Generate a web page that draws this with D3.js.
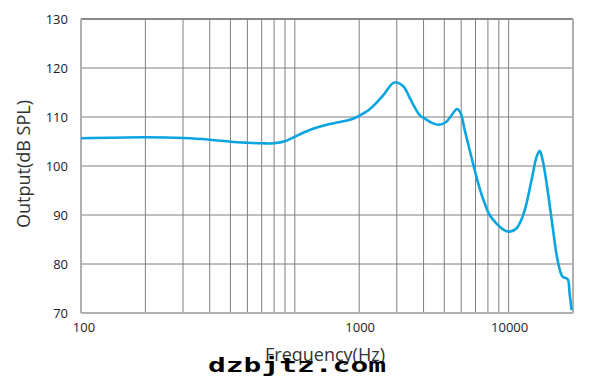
<!DOCTYPE html>
<html>
<head>
<meta charset="utf-8">
<script src="https://cdn.jsdelivr.net/npm/d3@7"></script>
<style>
  body { margin: 0; background: #fff; }
  svg { display: block; font-family: "Open Sans", "Noto Sans", sans-serif; }
</style>
</head>
<body>
<div id="chart"></div>
<script>
// frequency response
let freqs = [100, 200, 303, 401, 502, 597, 701, 797, 908, 1000, 1175, 1458, 1807, 1949, 2101, 2240, 2576, 2850, 2965, 3095, 3268, 3447, 3838, 4051, 4429, 4724, 5116, 5492, 5733, 5968, 6231, 6573, 6936, 7318, 7726, 8151, 8760, 9405, 10108, 10900, 11620, 12130, 12800, 13520, 13960, 14420, 15210, 16060, 16940, 17870, 18870, 19280, 19690]
let spl = [105.65, 105.86, 105.71, 105.37, 104.96, 104.76, 104.63, 104.63, 105.1, 105.98, 107.35, 108.57, 109.43, 110.0, 110.8, 111.6, 114.3, 116.8, 117.1, 116.8, 115.9, 113.9, 110.4, 109.7, 108.7, 108.43, 109.04, 110.76, 111.63, 110.76, 107.35, 103.27, 99.18, 95.45, 92.39, 90.0, 88.31, 87.08, 86.6, 87.3, 89.65, 92.45, 97.14, 101.9, 103.12, 101.22, 95.1, 87.61, 80.82, 77.41, 76.94, 74.0, 70.6]

let yTicks = [70, 80, 90, 100, 110, 120, 130]
let xTickValues = [100, 2000, 10000]
let xTickLabels = ['100', '1000', '10000']
let xGrid = [100, 200, 300, 400, 500, 600, 700, 800, 900, 1000, 2000, 3000, 4000, 5000, 6000, 7000, 8000, 9000, 10000]

let margin = {left: 81, right: 26, top: 19, bottom: 77}
let width = 599 - margin.left - margin.right
let height = 390 - margin.top - margin.bottom

let svg = d3.select('#chart').append('svg')
  .attr('width', 599)
  .attr('height', 390)

let g = svg.append('g')
  .attr('transform', 'translate(' + margin.left + ',' + margin.top + ')')

let x = d3.scaleLog().domain([100, 20000]).range([0, width])
let y = d3.scaleLinear().domain([70, 130]).range([height, 0])

// grid
g.selectAll('.vgrid').data(xGrid).enter().append('line')
  .attr('class', 'vgrid')
  .attr('x1', d => x(d)).attr('x2', d => x(d))
  .attr('y1', 0).attr('y2', height)
  .attr('stroke', '#7f7f7f').attr('stroke-width', 1)

g.selectAll('.hgrid').data(yTicks).enter().append('line')
  .attr('class', 'hgrid')
  .attr('x1', 0).attr('x2', width)
  .attr('y1', d => y(d)).attr('y2', d => y(d))
  .attr('stroke', '#7f7f7f').attr('stroke-width', 1)

// frame
g.append('line').attr('x1', 0).attr('x2', width).attr('y1', 0).attr('y2', 0)
  .attr('stroke', '#777').attr('stroke-width', 1.5)
g.append('line').attr('x1', 0).attr('x2', width).attr('y1', height).attr('y2', height)
  .attr('stroke', '#b0b0b0').attr('stroke-width', 2)
g.append('line').attr('x1', 0).attr('x2', 0).attr('y1', 0).attr('y2', height)
  .attr('stroke', '#b0b0b0').attr('stroke-width', 2)
g.append('line').attr('x1', width).attr('x2', width).attr('y1', 0).attr('y2', height)
  .attr('stroke', '#b0b0b0').attr('stroke-width', 2)

// tick labels
g.selectAll('.ylab').data(yTicks).enter().append('text')
  .attr('class', 'ylab')
  .attr('x', -13)
  .attr('y', d => y(d))
  .attr('dy', '0.35em')
  .attr('text-anchor', 'end')
  .attr('font-size', '13px')
  .attr('fill', '#1a1a2a')
  .text(d => d)

g.selectAll('.xlab').data(xTickValues).enter().append('text')
  .attr('class', 'xlab')
  .attr('x', (d, i) => x(d) + (i === 0 ? 3 : 1))
  .attr('y', height + 14)
  .attr('dy', '0.35em')
  .attr('text-anchor', 'middle')
  .attr('font-size', '13px')
  .attr('fill', '#1a1a2a')
  .text((d, i) => xTickLabels[i])

// axis titles
g.append('text')
  .attr('x', 244)
  .attr('y', height + 42)
  .attr('dy', '0.35em')
  .attr('text-anchor', 'middle')
  .attr('font-size', '18px')
  .attr('fill', '#333')
  .text('Frequency(Hz)')

g.append('text')
  .attr('transform', 'translate(-57,' + (height / 2 - 2) + ') rotate(-90)')
  .attr('dy', '0.35em')
  .attr('text-anchor', 'middle')
  .attr('font-size', '18px')
  .attr('fill', '#333')
  .text('Output(dB SPL)')

// response curve
let line = d3.line()
  .x((d, i) => x(freqs[i]))
  .y(d => y(d))
  .curve(d3.curveCatmullRom.alpha(0.5))

g.append('path')
  .attr('fill', 'none')
  .attr('stroke', '#0aa5e0')
  .attr('stroke-width', 2.6)
  .attr('stroke-linejoin', 'round')
  .attr('d', line(spl))

// watermark
svg.append('text')
  .attr('x', 208)
  .attr('y', 372)
  .attr('font-family', '"DejaVu Sans Mono", monospace')
  .attr('font-weight', 'bold')
  .attr('font-size', '20px')
  .attr('textLength', 178)
  .attr('lengthAdjust', 'spacingAndGlyphs')
  .attr('fill', '#000')
  .text('dzbjtz.com')
</script>
</body>
</html>
